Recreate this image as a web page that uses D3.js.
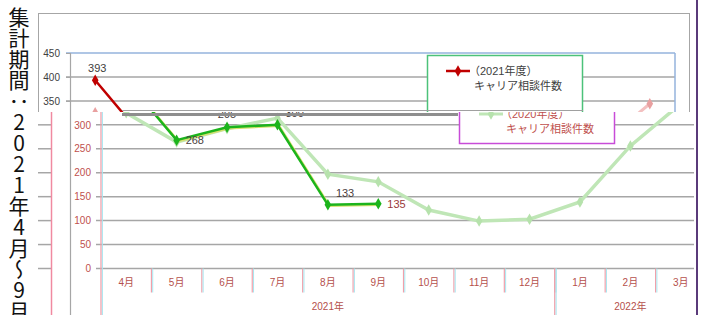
<!DOCTYPE html>
<html><head><meta charset="utf-8">
<script src="https://cdn.jsdelivr.net/npm/d3@7"></script>
<style>
body{margin:0;background:#fff}
svg{display:block}
text{font-family:"Liberation Sans","Noto Sans CJK JP",sans-serif}
</style>
</head><body>
<svg id="c" width="701" height="315"></svg>
<script>
// ---------- data ----------
const months = ["4月","5月","6月","7月","8月","9月","10月","11月","12月","1月","2月","3月"];
const years = ["2021年","2022年"];
const yearFirst = ["4月","1月"];
const yearLast = ["12月","3月"];
const fy2021 = [393,268,295,300,133,135];
const fy2020 = [325,264,292,314,197,181,122,99,103,139,256,344];
const yTicks = [0,50,100,150,200,250,300,350,400,450];
const title = "集計期間：2021年4月～9月";
const legendA = ["（2021年度）","キャリア相談件数"];
const legendB = ["（2020年度）","キャリア相談件数"];
const labelPosB = ["top","right","top","topright","topright","right"];

// ---------- setup ----------
const svg = d3.select("#c");
const defs = svg.append("defs");
const splitY = 112;
defs.append("clipPath").attr("id","clipA").append("rect").attr("x",0).attr("y",0).attr("width",701).attr("height",splitY);
defs.append("clipPath").attr("id","clipB").append("rect").attr("x",0).attr("y",splitY).attr("width",694).attr("height",315-splitY);

const y = d3.scaleLinear().domain([0,450]).range([268.5,53]);
const xA = d3.scaleBand().domain(months).range([70,675]);
const xB = d3.scaleBand().domain(months).range([101,706]);
const cA = m => xA(m) + xA.bandwidth()/2;
const cB = m => xB(m) + xB.bandwidth()/2;
const diamond = d3.symbol().type(d3.symbolDiamond).size(38);

// ---------- title (vertical) ----------
svg.append("text").text(title)
  .attr("x",19).attr("y",7)
  .style("writing-mode","vertical-rl").style("text-orientation","upright")
  .style("font-family","'Noto Sans CJK JP'").style("font-size","21px").attr("fill","#111");

// ---------- chart A (upper) ----------
const A = svg.append("g").attr("clip-path","url(#clipA)");
A.append("rect").attr("x",38.5).attr("y",13.5).attr("width",651).attr("height",300)
  .attr("fill","none").attr("stroke","#a6a6a6");
A.selectAll(".gA").data(yTicks.filter(t=>t<450 && y(t)<splitY)).join("line")
  .attr("x1",66).attr("x2",675).attr("y1",d=>y(d)).attr("y2",d=>y(d))
  .attr("stroke","#a6a6a6").attr("stroke-width",1.5);
A.append("line").attr("x1",66).attr("x2",675).attr("y1",y(450)).attr("y2",y(450)).attr("stroke","#95b3dd").attr("stroke-width",1.5);
A.append("line").attr("x1",675).attr("x2",675).attr("y1",y(450)).attr("y2",splitY).attr("stroke","#95b3dd").attr("stroke-width",1.5);
const axA = A.append("g").attr("transform","translate(70,0)")
  .call(d3.axisLeft(y).tickValues(yTicks.filter(t=>y(t)<splitY)).tickSize(4).tickPadding(6));
axA.select(".domain").remove();
axA.selectAll("line").attr("stroke","#a6a6a6");
axA.selectAll("text").attr("fill","#404040").style("font-size","10px");
// series
const lineA = d3.line().x(d=>cA(d.m)).y(d=>y(d.v));
const d20 = fy2020.map((v,i)=>({m:months[i],v}));
const d21 = fy2021.map((v,i)=>({m:months[i],v}));
A.append("path").datum(d20).attr("d",lineA).attr("fill","none").attr("stroke","#f3c0c0").attr("stroke-width",3);
A.selectAll(".p20A").data(d20).join("path").attr("d",diamond).attr("transform",d=>`translate(${cA(d.m)},${y(d.v)})`).attr("fill","#e9a0a0");
A.append("path").datum(d21).attr("d",lineA).attr("fill","none").attr("stroke","#c00000").attr("stroke-width",2.5);
A.selectAll(".p21A").data(d21).join("path").attr("d",diamond).attr("transform",d=>`translate(${cA(d.m)},${y(d.v)})`).attr("fill","#c00000");
A.selectAll(".l21A").data(d21.filter(d=>y(d.v)-8<splitY-6)).join("text").text(d=>d.v)
  .attr("x",d=>cA(d.m)+2).attr("y",d=>y(d.v)-8).attr("text-anchor","middle")
  .attr("fill","#404040").style("font-size","11px");
// legend A
const LA = A.append("g");
LA.append("rect").attr("x",427.5).attr("y",55.5).attr("width",155).attr("height",90).attr("fill","#fff").attr("stroke","#4cc27a").attr("stroke-width",1.5);
LA.append("line").attr("x1",446).attr("x2",470).attr("y1",71).attr("y2",71).attr("stroke","#c00000").attr("stroke-width",2.5);
LA.append("path").attr("d",diamond).attr("transform","translate(458,71)").attr("fill","#c00000");
LA.selectAll("text").data(legendA).join("text").text(d=>d)
  .attr("x",(d,i)=>i?474:469).attr("y",(d,i)=>75+i*15).attr("fill","#404040").style("font-size","11px");
A.append("line").attr("x1",122).attr("x2",583).attr("y1",110.5).attr("y2",110.5).attr("stroke","#a0a0a0").attr("stroke-width",1);

// ---------- chart B (lower) ----------
const B = svg.append("g").attr("clip-path","url(#clipB)");
B.selectAll(".gB").data(yTicks).join("line")
  .attr("x1",96).attr("x2",706).attr("y1",d=>y(d)).attr("y2",d=>y(d))
  .attr("stroke","#a6a6a6").attr("stroke-width",1.5);
const axB = B.append("g").attr("transform","translate(101,0)")
  .call(d3.axisLeft(y).tickValues(yTicks.filter(t=>y(t)>splitY)).tickSize(0).tickPadding(10));
axB.select(".domain").remove();
axB.selectAll("text").attr("fill","#c0504d").style("font-size","10px");
// ghost ticks at far left
B.selectAll(".gt").data(yTicks).join("line")
  .attr("x1",38).attr("x2",51).attr("y1",d=>y(d)).attr("y2",d=>y(d)).attr("stroke","#a6a6a6").attr("stroke-width",1.5);
B.append("line").attr("x1",51.5).attr("x2",51.5).attr("y1",splitY).attr("y2",315).attr("stroke","#f08aa0").attr("stroke-width",1.5);
// category separators
const seps = months.slice(1).map(m=>xB(m));
B.selectAll(".sepP").data(seps).join("line")
  .attr("x1",d=>d).attr("x2",d=>d).attr("y1",y(0)).attr("y2",y(0)+24).attr("stroke","#f0a0aa").attr("stroke-width",1.2);
B.selectAll(".sepC").data(seps).join("line")
  .attr("x1",d=>d+1.3).attr("x2",d=>d+1.3).attr("y1",y(0)).attr("y2",y(0)+24).attr("stroke","#a6e6f0").attr("stroke-width",1);
// year separators (long)
const ysep = [xB(yearFirst[0]), xB(yearFirst[1])];
B.selectAll(".ysP").data(ysep).join("line")
  .attr("x1",d=>d).attr("x2",d=>d).attr("y1",(d,i)=>i?y(0):splitY).attr("y2",315).attr("stroke","#f0a0aa").attr("stroke-width",1.3);
B.selectAll(".ysC").data(ysep).join("line")
  .attr("x1",d=>d+1.4).attr("x2",d=>d+1.4).attr("y1",(d,i)=>i?y(0):splitY).attr("y2",315).attr("stroke","#a6e6f0").attr("stroke-width",1);
// month labels
const axX = B.append("g").attr("transform",`translate(0,${y(0)})`)
  .call(d3.axisBottom(xB).tickSize(0).tickPadding(10));
axX.select(".domain").remove();
axX.selectAll("text").attr("fill","#b5504c").style("font-size","10px");
// year labels
B.selectAll(".yl").data(years).join("text").text(d=>d)
  .attr("x",(d,i)=>(xB(yearFirst[i]) + xB(yearLast[i]) + xB.bandwidth())/2)
  .attr("y",310).attr("text-anchor","middle").attr("fill","#b5504c").style("font-size","10px");
// series
const lineB = d3.line().x(d=>cB(d.m)).y(d=>y(d.v));
B.append("path").datum(d20).attr("d",lineB).attr("fill","none").attr("stroke","#bfe6b6").attr("stroke-width",3.5);
B.selectAll(".p20B").data(d20).join("path").attr("d",diamond).attr("transform",d=>`translate(${cB(d.m)},${y(d.v)})`).attr("fill","#b6e2ac");
B.append("path").datum(d21).attr("d",lineB).attr("fill","none").attr("stroke","#d8e070").attr("stroke-width",2.5).attr("transform","translate(1.5,1)");
B.append("path").datum(d21).attr("d",lineB).attr("fill","none").attr("stroke","#1cb41c").attr("stroke-width",2.5);
B.selectAll(".p21B").data(d21).join("path").attr("d",diamond).attr("transform",d=>`translate(${cB(d.m)},${y(d.v)})`).attr("fill","#1cb41c");
const off = {top:[0,-9,"middle"], right:[9,4,"start"], topright:[8,-8,"start"]};
B.selectAll(".l21B").data(d21).join("text").text(d=>d.v)
  .attr("x",(d,i)=>cB(d.m)+off[labelPosB[i]][0])
  .attr("y",(d,i)=>y(d.v)+off[labelPosB[i]][1])
  .attr("text-anchor",(d,i)=>off[labelPosB[i]][2])
  .attr("fill",(d,i)=>i===5?"#9a3a3a":"#4a4040").style("font-size","11px");
// legend B
const LB = B.append("g");
LB.append("rect").attr("x",459.5).attr("y",100.5).attr("width",155).attr("height",43).attr("fill","#fff").attr("stroke","#c84cd8").attr("stroke-width",1.5);
LB.append("line").attr("x1",479).attr("x2",503).attr("y1",114).attr("y2",114).attr("stroke","#bfe6b6").attr("stroke-width",3);
LB.append("path").attr("d",diamond).attr("transform","translate(491,114)").attr("fill","#b6e2ac");
LB.selectAll("text").data(legendB).join("text").text(d=>d)
  .attr("x",(d,i)=>i?506:501).attr("y",(d,i)=>118+i*15).attr("fill","#c0504d").style("font-size","11px");
// ghost bar
B.append("rect").attr("x",122).attr("y",113).attr("width",336).attr("height",3).attr("fill","#8e8e8e");

// ---------- unclipped strokes ----------
svg.append("line").attr("x1",70.5).attr("x2",70.5).attr("y1",y(450)).attr("y2",315).attr("stroke","#a6a6a6").attr("stroke-width",1.2);
svg.append("line").attr("x1",697).attr("x2",697).attr("y1",0).attr("y2",315).attr("stroke","#5a3a7a").attr("stroke-width",2);
</script>
</body></html>
